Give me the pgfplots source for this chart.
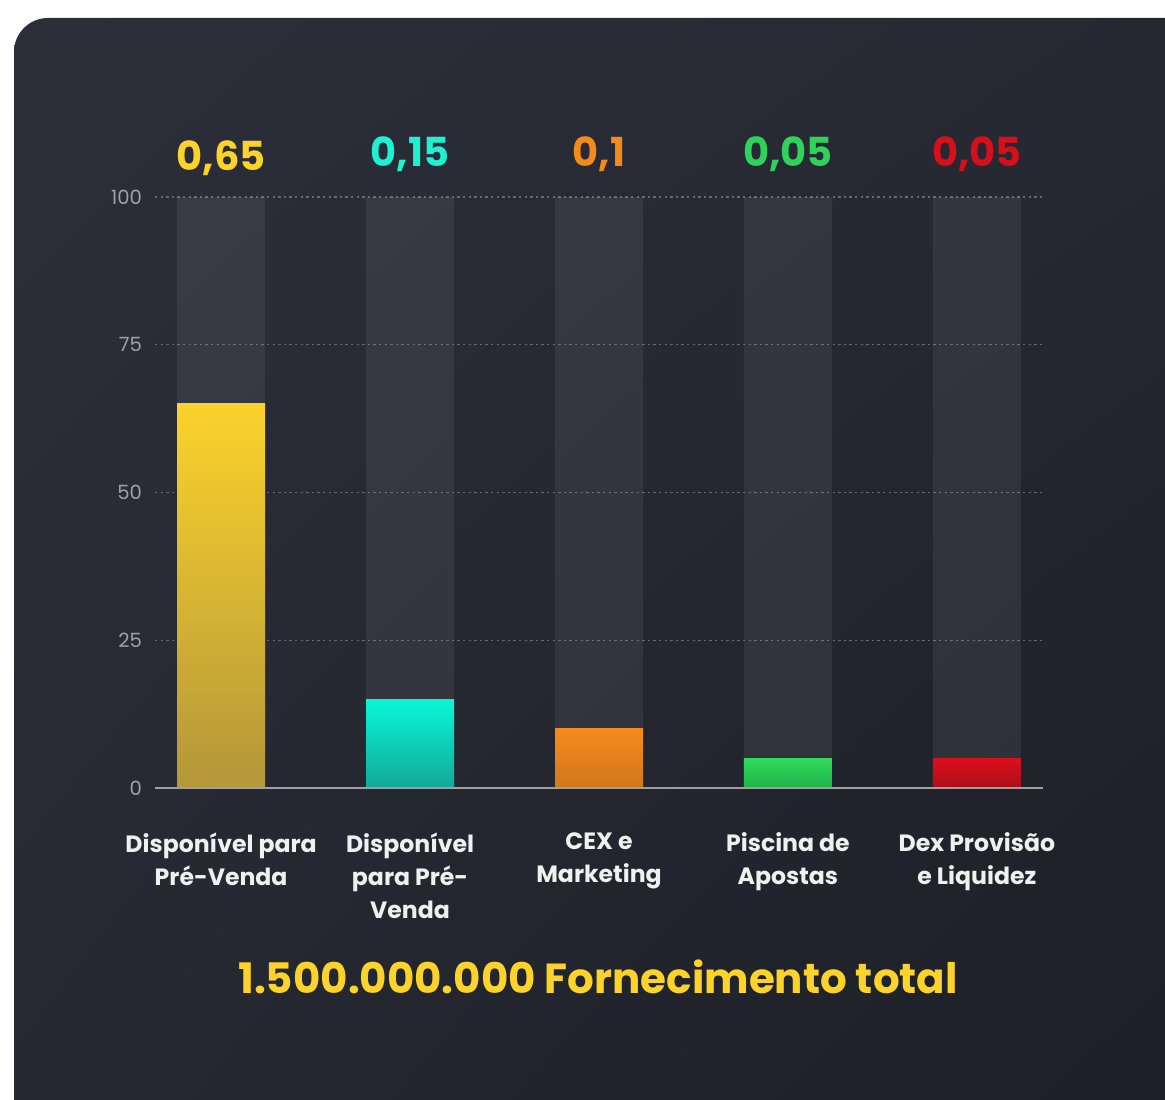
\documentclass[border=0pt]{standalone}
\usepackage{pgfplots}
\pgfplotsset{compat=1.18}
\usetikzlibrary{shadings}
\usepackage{fontspec}
\setmainfont{Poppins}
\definecolor{bgA}{HTML}{2C2E3A}
\definecolor{bgB}{HTML}{1D1F26}
\definecolor{gridc}{HTML}{666975}
\definecolor{tickc}{HTML}{A0A1A8}
\definecolor{yelT}{HTML}{FBD22B}
\definecolor{yelB}{HTML}{B3973A}
\definecolor{cyaT}{HTML}{08F7D6}
\definecolor{cyaB}{HTML}{14A898}
\definecolor{oraT}{HTML}{F58A1E}
\definecolor{oraB}{HTML}{D0781E}
\definecolor{greT}{HTML}{30DA5C}
\definecolor{greB}{HTML}{22B14A}
\definecolor{redT}{HTML}{DC0F1C}
\definecolor{redB}{HTML}{A8101C}
\definecolor{yelL}{HTML}{FBD32B}
\definecolor{cyaL}{HTML}{1EF0D0}
\definecolor{oraL}{HTML}{F28B1C}
\definecolor{greL}{HTML}{2FD35A}
\definecolor{redL}{HTML}{D5101A}
\colorlet{bgM}{bgA!60!bgB}
\begin{document}
\begin{tikzpicture}
\fill[white] (0,0) rectangle (582.5pt,549.5pt);
\begin{scope}
\clip (0,0) rectangle (582.5pt,549.5pt);
\shade[rounded corners=17pt, upper left=bgA, upper right=bgM, lower left=bgM, lower right=bgB] (7pt,-20pt) rectangle (600pt,540.5pt);
\end{scope}
\begin{axis}[
  at={(77.5pt,155.5pt)}, anchor=south west,
  scale only axis, width=444pt, height=295.5pt,
  xmin=-0.35, xmax=4.35, ymin=0, ymax=100,
  ytick={0,25,50,75,100},
  xtick={0,1,2,3,4},
  xticklabels={{Disponível para\\Pré-Venda},{Disponível\\para Pré-\\Venda},{CEX e\\Marketing},{Piscina de\\Apostas},{Dex Provisão\\e Liquidez}},
  xticklabel style={font=\bfseries\fontsize{11.8pt}{16.5pt}\selectfont, text=white!94!black, align=center, yshift=-19pt},
  yticklabel style={font=\fontsize{9.8pt}{11pt}\selectfont, text=tickc, xshift=-3pt},
  /pgf/number format/assume math mode=true,
  major tick length=0pt,
  axis line style={draw=none},
  ymajorgrids, grid style={gridc, line width=0.6pt, dash pattern=on 1.2pt off 1.6pt},
  clip=false,
  ybar, bar width=44pt,
]
\addplot[bar shift=0pt, fill=white, fill opacity=0.065, draw=none] coordinates {(0,100) (1,100) (2,100) (3,100) (4,100)};
\addplot[bar shift=0pt, draw=none, top color=yelT, bottom color=yelB] coordinates {(0,65)};
\addplot[bar shift=0pt, draw=none, top color=cyaT, bottom color=cyaB] coordinates {(1,15)};
\addplot[bar shift=0pt, draw=none, top color=oraT, bottom color=oraB] coordinates {(2,10)};
\addplot[bar shift=0pt, draw=none, top color=greT, bottom color=greB] coordinates {(3,5)};
\addplot[bar shift=0pt, draw=none, top color=redT, bottom color=redB] coordinates {(4,5)};
\draw[draw=gray!75!white, line width=0.8pt] (axis cs:-0.35,0) -- (axis cs:4.35,0);
\node[font=\bfseries\fontsize{20pt}{24pt}\selectfont, text=yelL] at (axis cs:0,106.6) {0,65};
\node[font=\bfseries\fontsize{20pt}{24pt}\selectfont, text=cyaL] at (axis cs:1,107.2) {0,15};
\node[font=\bfseries\fontsize{20pt}{24pt}\selectfont, text=oraL] at (axis cs:2,107.2) {0,1};
\node[font=\bfseries\fontsize{20pt}{24pt}\selectfont, text=greL] at (axis cs:3,107.2) {0,05};
\node[font=\bfseries\fontsize{20pt}{24pt}\selectfont, text=redL] at (axis cs:4,107.2) {0,05};
\end{axis}
\node[font=\bfseries\fontsize{21pt}{25pt}\selectfont, text=yelL] at (299pt,61pt) {1.500.000.000 Fornecimento total};
\pgfresetboundingbox
\path[use as bounding box] (0,0) rectangle (582.5pt,549.5pt);
\end{tikzpicture}
\end{document}
